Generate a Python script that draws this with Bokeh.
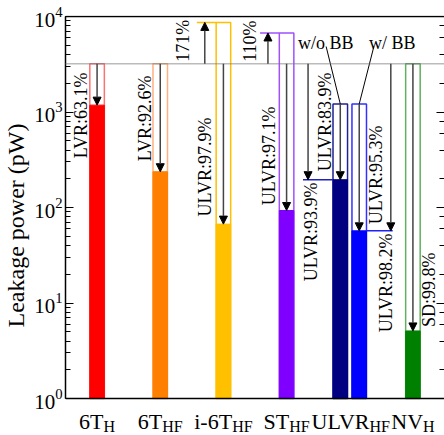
import math
from bokeh.plotting import figure
from bokeh.models import (Range1d, LogAxis, LogTicker, Span, Arrow,
                          NormalHead, ColumnDataSource)
from bokeh.embed import file_html
from bokeh.resources import INLINE
from bokeh.core.properties import value

# ---------------------------------------------------------------- data
cell_main = ["6T", "6T", "i-6T", "ST", "ULVR", "NV"]
cell_sub = ["H", "HF", "HF", "HF", "HF", "H"]

baseline_pw = 3200.0  # leakage of the plain 6T_H cell (dotted reference)

# one entry per bar; ULVR_HF has two bars (without / with body bias)
bar_cat = [1, 2, 3, 4, 5, 5, 6]
bar_shift = [0, 0, 0, 0, -0.15, 0.15, 0]
before_pw = [3200, 3200, 8670, 6720, 1215, 1215, 3200]   # unreduced leakage
after_pw = [1180, 237, 67, 93, 195.5, 57, 5.1]           # leakage in retention mode
mode = ["LVR", "LVR", "ULVR", "ULVR", "ULVR", "ULVR", "SD"]

fill_colors = ["#FF0000", "#FF8000", "#FFC000", "#8000FF", "#000080", "#0000FF", "#008000"]
edge_colors = ["#FF7070", "#FFB080", "#FFC000", "#A050FF", "#202090", "#3030FF", "#60B060"]

FONT = "Liberation Serif"
BAR_W = 0.23
Y_MIN, Y_MAX = 1.0, 1e4            # plotted decades
PX_PER_DECADE = 95.5

bar_x = [c + s for c, s in zip(bar_cat, bar_shift)]

# the frame runs below the 10^0 line so the category names can sit there
y_lo = 10 ** (-37 / PX_PER_DECADE)
y_hi = 10 ** (4 + 1 / PX_PER_DECADE)

p = figure(width=444, height=435, x_range=Range1d(0.5, 6.5), y_range=Range1d(y_lo, y_hi),
           y_axis_type="log", x_axis_location=None, output_backend="svg",
           toolbar_location=None, min_border_left=63, min_border_right=0,
           min_border_top=15, min_border_bottom=0)
p.grid.visible = False
p.outline_line_color = None
p.background_fill_color = "white"
p.border_fill_color = "white"

yax = p.yaxis[0]
yax.bounds = (Y_MIN, Y_MAX)
yax.axis_label = "Leakage power (pW)"
yax.axis_label_text_font = FONT
yax.axis_label_text_font_style = "normal"
yax.axis_label_text_font_size = "24px"
yax.axis_label_text_color = "black"
yax.axis_label_standoff = 2
yax.major_label_text_font = FONT
yax.major_label_text_font_size = "21px"
yax.major_label_text_color = "black"
yax.major_label_standoff = 3
yax.major_tick_in = 8
yax.major_tick_out = 0
yax.minor_tick_in = 5
yax.minor_tick_out = 0
yax.axis_line_width = 1.5

# mirrored ticks on the right edge, no labels
right = LogAxis(ticker=LogTicker(), bounds=(Y_MIN, Y_MAX),
                major_label_text_font_size="1px", major_label_text_color=None,
                major_label_standoff=0, major_tick_in=8, major_tick_out=0,
                minor_tick_in=5, minor_tick_out=0, axis_line_color=None)
p.add_layout(right, "right")

# top and bottom frame lines
p.add_layout(Span(location=Y_MAX, dimension="width", line_color="black", line_width=1.5))
p.add_layout(Span(location=Y_MIN, dimension="width", line_color="black", line_width=1.5))

# dotted reference level
p.add_layout(Span(location=baseline_pw, dimension="width", line_color="#777777",
                  line_dash="1 1", line_width=1.5))

# unreduced leakage (outline) and reduced leakage (filled)
p.vbar(x=bar_x, width=BAR_W, bottom=Y_MIN, top=before_pw, fill_color=None,
       line_color=edge_colors, line_width=1.5)
p.vbar(x=bar_x, width=BAR_W, bottom=Y_MIN, top=after_pw, fill_color=fill_colors,
       line_color=fill_colors, line_width=1)

# ---- arrows
ax0, ay0, ax1, ay1 = [], [], [], []
seg_x0, seg_x1, seg_y, seg_c = [], [], [], []
half = BAR_W / 2
for i, (x, b, a) in enumerate(zip(bar_x, before_pw, after_pw)):
    if i == 4:      # ULVR w/o BB: reduction from the reference drawn beside the bar
        xr = x - 0.51
        ax0.append(xr); ay0.append(baseline_pw); ax1.append(xr); ay1.append(a)
        seg_x0.append(xr - 0.08); seg_x1.append(x - half); seg_y.append(a); seg_c.append("#2020C0")
        ax0.append(x); ay0.append(b); ax1.append(x); ay1.append(a)
    elif i == 5:    # ULVR w/ BB
        xr = x + 0.50
        ax0.append(xr); ay0.append(baseline_pw); ax1.append(xr); ay1.append(a)
        seg_x0.append(x + half); seg_x1.append(xr + 0.03); seg_y.append(a); seg_c.append("#2020FF")
        ax0.append(x); ay0.append(b); ax1.append(x); ay1.append(a)
    else:
        ax0.append(x); ay0.append(baseline_pw); ax1.append(x); ay1.append(a)
        if b > baseline_pw:   # leakage increase over the reference
            xu = x - 0.295
            ax0.append(xu); ay0.append(baseline_pw); ax1.append(xu); ay1.append(b)
            seg_x0.append(xu - 0.125); seg_x1.append(x - half); seg_y.append(b)
            seg_c.append(edge_colors[i])

p.segment(x0=seg_x0, y0=seg_y, x1=seg_x1, y1=seg_y, line_color=seg_c, line_width=1.5)

arrow_src = ColumnDataSource(dict(x0=ax0, y0=ay0, x1=ax1, y1=ay1))
p.add_layout(Arrow(source=arrow_src, x_start="x0", y_start="y0", x_end="x1", y_end="y1",
                   line_color="#444444", line_width=1.5,
                   end=NormalHead(size=8, fill_color="black", line_color="black",
                                  line_width=1)))

# ---- rotated percentage labels
red_pct = [100 * (1 - a / baseline_pw) for a in after_pw]
red_txt = [f"{m}:{v:.1f}%" for m, v in zip(mode, red_pct)]
red_lx = [0.744, 1.752, 2.713, 3.72, 4.39, 5.57, 6.25]
red_ly = [2590, 2410, 875, 1142, 183, 53.5, 33.8]

own_txt = [f"ULVR:{100 * (1 - after_pw[i] / before_pw[i]):.1f}%" for i in (4, 5)]
own_lx = [4.61, 5.41]
own_ly = [2590, 722]

p.text(x=red_lx + own_lx, y=red_ly + own_ly, text=red_txt + own_txt, angle=math.pi / 2,
       text_align="right", text_baseline="middle", text_font=value(FONT),
       text_font_size="18px", text_color="black")

inc_txt = [f"{100 * (before_pw[i] / baseline_pw - 1):.0f}%" for i in (2, 3)]
p.text(x=[2.366, 3.42], y=[3350, 3350], text=inc_txt, angle=math.pi / 2,
       text_align="left", text_baseline="middle", text_font=value(FONT),
       text_font_size="18px", text_color="black")

# ---- body-bias callouts
p.segment(x0=[4.626, 5.382], y0=[4850, 4850], x1=[bar_x[4], bar_x[5]],
          y1=[before_pw[4], before_pw[5]], line_color="black", line_width=1)
p.text(x=[4.62, 5.673], y=[5250, 5250], text=["w/o BB", "w/ BB"], text_align="center",
       text_baseline="alphabetic", text_font=value(FONT), text_font_size="18px",
       text_color="black")

# ---- category names with subscripts, under the 10^0 line
TIMES_W = {"6": 500, "T": 611, "i": 278, "-": 333, "S": 556, "U": 722, "L": 611,
           "V": 722, "R": 667, "N": 722, "H": 722, "F": 556}
MAIN_PX, SUB_PX = 22, 16
cat_x, split = [], []
for k, (m, s) in enumerate(zip(cell_main, cell_sub)):
    wm = sum(TIMES_W[c] for c in m) * MAIN_PX / 1000
    ws = sum(TIMES_W[c] for c in s) * SUB_PX / 1000
    cat_x.append(k + 1)
    split.append((wm - ws) / 2)

y_main = 10 ** (-23 / PX_PER_DECADE)
y_sub = 10 ** (-28 / PX_PER_DECADE)
p.text(x=cat_x, y=[y_main] * 6, text=cell_main, x_offset=split, text_align="right",
       text_baseline="alphabetic", text_font=value(FONT),
       text_font_size=f"{MAIN_PX}px", text_color="black")
p.text(x=cat_x, y=[y_sub] * 6, text=cell_sub, x_offset=split, text_align="left",
       text_baseline="alphabetic", text_font=value(FONT),
       text_font_size=f"{SUB_PX}px", text_color="black")

open("out.html", "w").write(file_html(p, INLINE))
